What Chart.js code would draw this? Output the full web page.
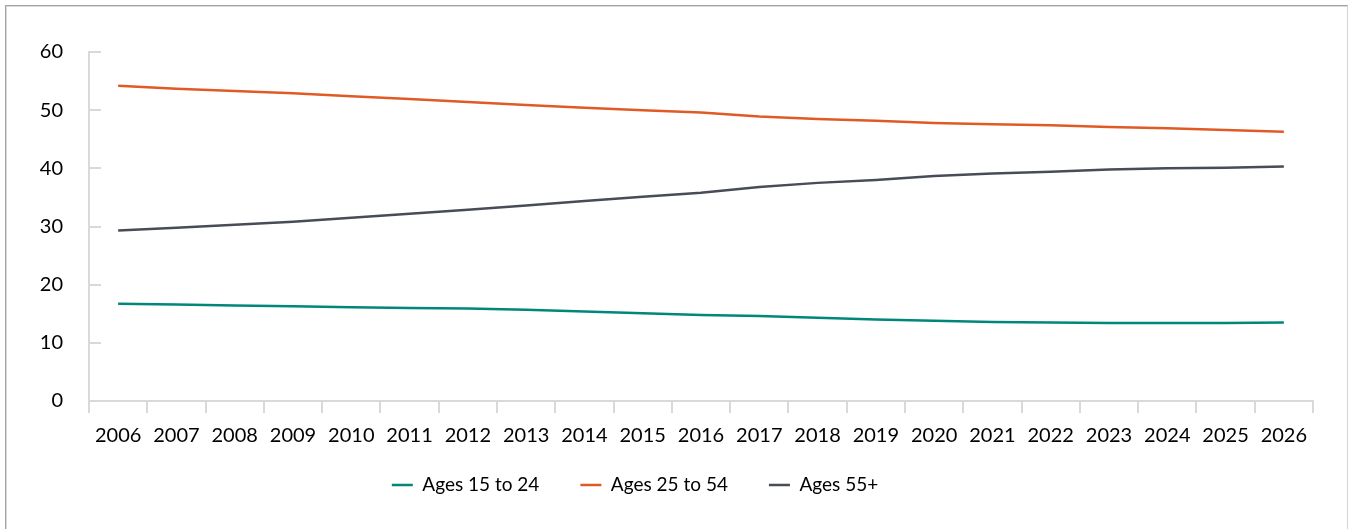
<!DOCTYPE html>
<html>
<head>
<meta charset="utf-8">
<script src="https://cdn.jsdelivr.net/npm/chart.js@4.4.0/dist/chart.umd.min.js"></script>
<style>
  html, body { margin: 0; padding: 0; background: #fff; }
  #frame {
    position: absolute; left: 5px; top: 5px; width: 1343px; height: 530px; box-sizing: border-box;
    border-top: 1px solid #a3a3a3; border-left: 1px solid #a3a3a3; border-right: 1px solid #d4d4d4;
    box-shadow: inset 1px 1px 0 #dadada;
  }
  #wrap { position: relative; width: 1341px; height: 528px; }
</style>
</head>
<body>
<div id="frame"><div id="wrap"><canvas id="chart"></canvas></div></div>
<script>
const years = ['2006', '2007', '2008', '2009', '2010', '2011', '2012', '2013', '2014', '2015', '2016',
    '2017', '2018', '2019', '2020', '2021', '2022', '2023', '2024', '2025', '2026'];

const ages15to24 = [16.7, 16.6, 16.4, 16.3, 16.1, 16.0, 15.9, 15.7, 15.4, 15.1, 14.8,
    14.6, 14.3, 14.0, 13.8, 13.6, 13.5, 13.4, 13.4, 13.4, 13.5];
const ages25to54 = [54.2, 53.7, 53.3, 52.9, 52.4, 51.9, 51.4, 50.9, 50.4, 50.0, 49.6,
    48.9, 48.5, 48.2, 47.8, 47.6, 47.4, 47.1, 46.9, 46.6, 46.3];
const ages55plus = [29.3, 29.8, 30.3, 30.8, 31.5, 32.2, 32.9, 33.6, 34.4, 35.1, 35.8,
    36.8, 37.5, 38.0, 38.7, 39.1, 39.4, 39.8, 40.0, 40.1, 40.3];

const yTicks = [0, 10, 20, 30, 40, 50, 60];

const teal = '#00877a';
const orange = '#e05a26';
const slate = '#474c56';
const axisGrey = '#d9d9d9';
const font = { family: 'Lato', size: 20 };

// the legend in the original sits a bit left of centre and tucks up under the year labels
const legendShift = {
    id: 'legendShift',
    afterLayout(chart) {
        const lg = chart.legend;
        lg.right -= 49;
        lg.width -= 49;
        lg.top -= 12.5;
        lg.bottom -= 12.5;
    }
};

new Chart(document.getElementById('chart'), {
    type: 'line',
    data: {
        labels: years,
        datasets: [
            { label: 'Ages 15 to 24', data: ages15to24, borderColor: teal, backgroundColor: teal },
            { label: 'Ages 25 to 54', data: ages25to54, borderColor: orange, backgroundColor: orange },
            { label: 'Ages 55+', data: ages55plus, borderColor: slate, backgroundColor: slate }
        ]
    },
    options: {
        responsive: true,
        maintainAspectRatio: false,
        animation: false,
        layout: { padding: { left: 0, top: 46, right: 34, bottom: 17 } },
        elements: {
            point: { radius: 0, hoverRadius: 0, borderWidth: 2.5 },
            line: { borderWidth: 2.5, tension: 0 }
        },
        scales: {
            x: {
                offset: true,
                grid: { display: true, offset: true, drawOnChartArea: false, tickLength: 12, color: axisGrey, lineWidth: 2 },
                border: { display: true, color: axisGrey, width: 2 },
                ticks: { color: '#000', font: font, padding: 11, maxRotation: 0, autoSkip: false },
                afterFit: (scale) => { scale.height = 46; }
            },
            y: {
                min: 0,
                max: 60,
                afterBuildTicks: (scale) => { scale.ticks = yTicks.map(v => ({ value: v })); },
                // negative tick length puts the tick marks inside the plot
                grid: { display: true, drawOnChartArea: false, tickLength: -12, color: axisGrey, lineWidth: 2 },
                border: { display: true, color: axisGrey, width: 2 },
                ticks: { color: '#000', font: font, padding: 38 },
                afterFit: (scale) => {
                    scale.width = 83;
                    scale.paddingTop = 12;
                    scale.paddingBottom = 12;
                }
            }
        },
        plugins: {
            legend: {
                position: 'bottom',
                labels: {
                    usePointStyle: true,
                    pointStyle: 'line',
                    pointStyleWidth: 21,
                    padding: 41,
                    color: '#000',
                    font: { family: 'Lato', size: 19 }
                }
            },
            tooltip: { enabled: false }
        }
    },
    plugins: [legendShift]
});
</script>
</body>
</html>
